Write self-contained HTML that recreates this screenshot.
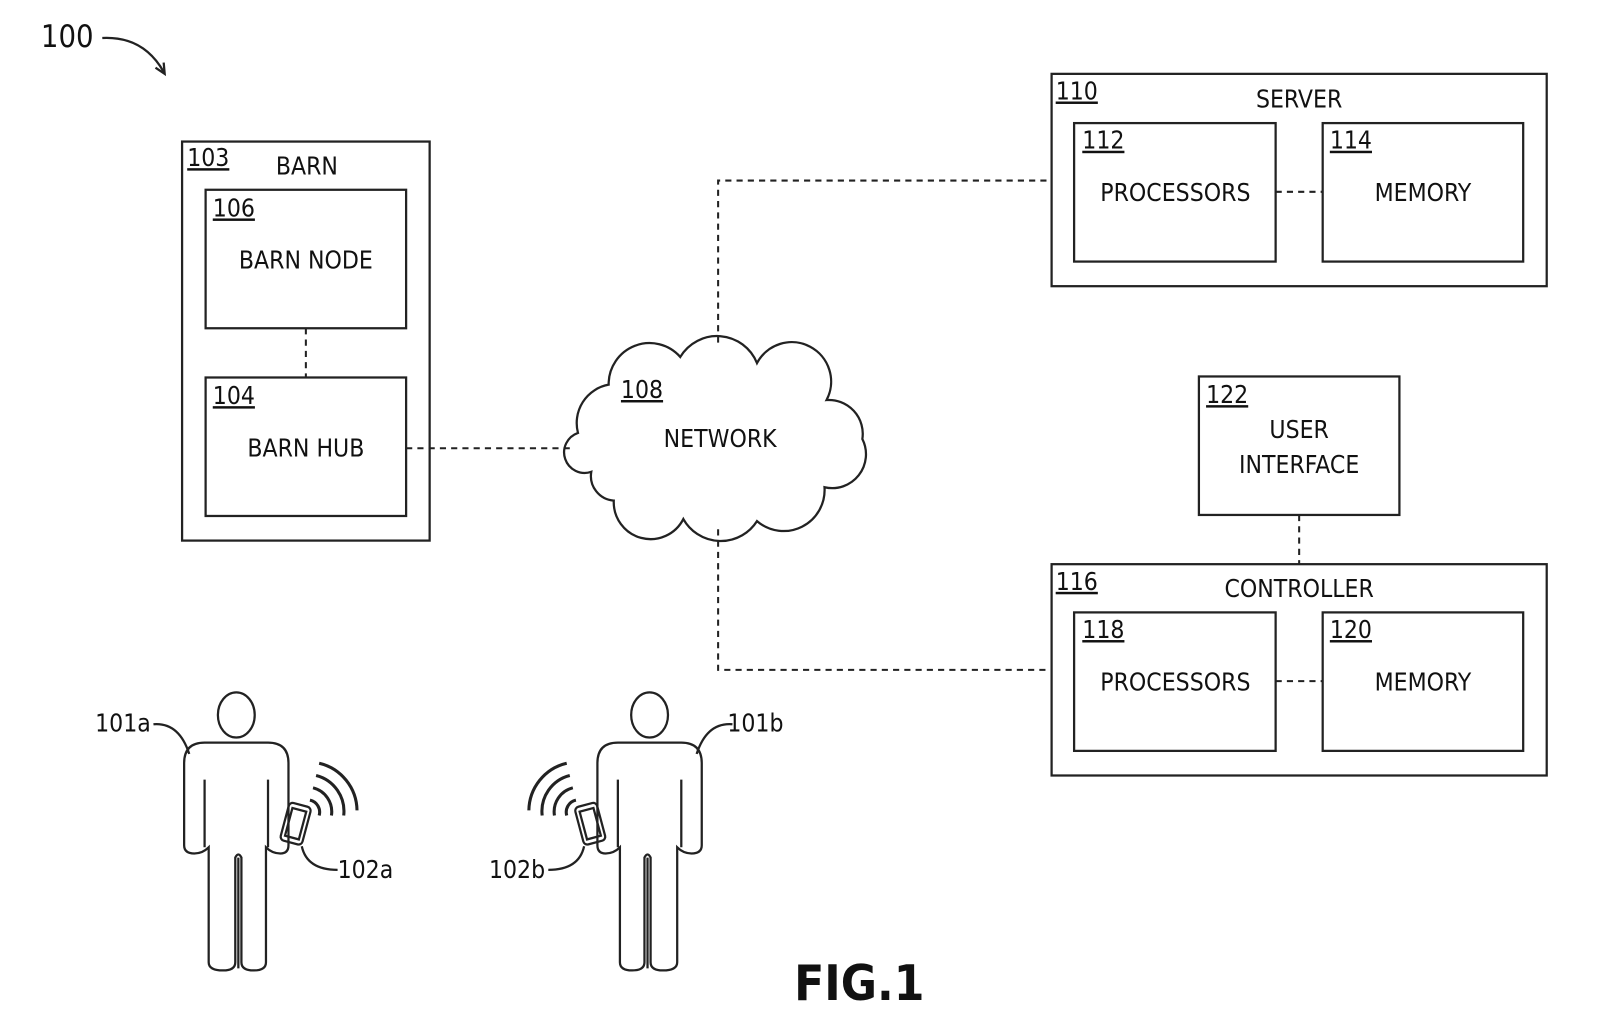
<!DOCTYPE html>
<html><head><meta charset="utf-8"><style>
html,body{margin:0;padding:0;background:#fff;}
svg{display:block;}
text{font-family:"DejaVu Sans Condensed","DejaVu Sans","Liberation Sans",sans-serif;fill:#111;}
</style></head><body>
<svg width="1604" height="1034" viewBox="0 0 1568 1008" preserveAspectRatio="none" xmlns="http://www.w3.org/2000/svg">
<g fill="none" stroke="#222" stroke-width="2.2">
<path d="M100,37 Q140,35 160,70"/>
<path d="M152,66 L161,72 L160,61"/>
<rect x="178" y="138" width="242" height="389"/>
<rect x="201" y="185" width="196" height="135"/>
<rect x="201" y="368" width="196" height="135"/>
<rect x="1028" y="72" width="484" height="207"/>
<rect x="1050" y="120" width="197" height="135"/>
<rect x="1293" y="120" width="196" height="135"/>
<rect x="1172" y="367" width="196" height="135"/>
<rect x="1028" y="550" width="484" height="206"/>
<rect x="1050" y="597" width="197" height="135"/>
<rect x="1293" y="597" width="196" height="135"/>
<path d="M578,460 A20,20 0 0 1 565,422 A38,38 0 0 1 595,375 A40,40 0 0 1 665,348 A42,42 0 0 1 740,354 A38,38 0 0 1 808,390 A33,33 0 0 1 843,428 A33,33 0 0 1 806,475 A40,40 0 0 1 740,508 A42,42 0 0 1 668,506 A36,36 0 0 1 600,488 A24,24 0 0 1 578,460 Z"/>
</g>
<g fill="none" stroke="#222" stroke-width="2" stroke-dasharray="6,5">
<path d="M299,320 V368"/>
<path d="M397,437 H562"/>
<path d="M702,334 V176 H1028"/>
<path d="M702,516 V653 H1028"/>
<path d="M1247,187 H1293"/>
<path d="M1247,664 H1293"/>
<path d="M1270,502 V550"/>
</g>
<g fill="none" stroke="#222" stroke-width="2.2">
<ellipse cx="231" cy="697" rx="18" ry="22"/>
<path d="M200,724 H262 Q282,724 282,744 V824 Q282,832 274,832 Q266,832 260,826 V938 Q260,946 248,946 Q236,946 236,938 V836 Q233,830 230,836 V938 Q230,946 218,946 Q204,946 204,938 V826 Q198,832 190,832 Q180,832 180,824 V744 Q180,724 200,724 Z"/>
<path d="M200,760 V826 M262,760 V826 M233,836 V944"/>
<rect x="278" y="784" width="22" height="38" rx="4" transform="rotate(15 289 803)"/>
<rect x="282" y="789" width="14" height="28" transform="rotate(15 289 803)"/>
<path d="M303,780 A12,12 0 0 1 312,795 M306,768 A24,24 0 0 1 324,795 M309,756 A36,36 0 0 1 336,795 M312,744 A48,48 0 0 1 349,790" stroke-width="3"/>
<path d="M150,706 Q175,704 185,735"/>
<path d="M295,825 Q300,848 330,848"/>
</g>
<g transform="translate(866,0) scale(-1,1)" fill="none" stroke="#222" stroke-width="2.2">
<ellipse cx="231" cy="697" rx="18" ry="22"/>
<path d="M200,724 H262 Q282,724 282,744 V824 Q282,832 274,832 Q266,832 260,826 V938 Q260,946 248,946 Q236,946 236,938 V836 Q233,830 230,836 V938 Q230,946 218,946 Q204,946 204,938 V826 Q198,832 190,832 Q180,832 180,824 V744 Q180,724 200,724 Z"/>
<path d="M200,760 V826 M262,760 V826 M233,836 V944"/>
<rect x="278" y="784" width="22" height="38" rx="4" transform="rotate(15 289 803)"/>
<rect x="282" y="789" width="14" height="28" transform="rotate(15 289 803)"/>
<path d="M303,780 A12,12 0 0 1 312,795 M306,768 A24,24 0 0 1 324,795 M309,756 A36,36 0 0 1 336,795 M312,744 A48,48 0 0 1 349,790" stroke-width="3"/>
<path d="M150,706 Q175,704 185,735"/>
<path d="M295,825 Q300,848 330,848"/>
</g>
<g font-size="24">
<text x="40" y="46" font-size="30">100</text>
<text x="183" y="162" text-decoration="underline">103</text>
<text x="300" y="170" text-anchor="middle">BARN</text>
<text x="208" y="211" text-decoration="underline">106</text>
<text x="299" y="262" text-anchor="middle">BARN NODE</text>
<text x="208" y="394" text-decoration="underline">104</text>
<text x="299" y="445" text-anchor="middle">BARN HUB</text>
<text x="607" y="388" text-decoration="underline">108</text>
<text x="704" y="436" text-anchor="middle">NETWORK</text>
<text x="1032" y="97" text-decoration="underline">110</text>
<text x="1270" y="105" text-anchor="middle">SERVER</text>
<text x="1058" y="145" text-decoration="underline">112</text>
<text x="1149" y="196" text-anchor="middle">PROCESSORS</text>
<text x="1300" y="145" text-decoration="underline">114</text>
<text x="1391" y="196" text-anchor="middle">MEMORY</text>
<text x="1179" y="393" text-decoration="underline">122</text>
<text x="1270" y="427" text-anchor="middle">USER</text>
<text x="1270" y="461" text-anchor="middle">INTERFACE</text>
<text x="1032" y="575" text-decoration="underline">116</text>
<text x="1270" y="582" text-anchor="middle">CONTROLLER</text>
<text x="1058" y="622" text-decoration="underline">118</text>
<text x="1149" y="673" text-anchor="middle">PROCESSORS</text>
<text x="1300" y="622" text-decoration="underline">120</text>
<text x="1391" y="673" text-anchor="middle">MEMORY</text>
<text x="93" y="713">101a</text>
<text x="711" y="713">101b</text>
<text x="330" y="856">102a</text>
<text x="478" y="856">102b</text>
<text x="840" y="975" text-anchor="middle" font-size="48" font-weight="bold">FIG.1</text>
</g>
</svg>
</body></html>
